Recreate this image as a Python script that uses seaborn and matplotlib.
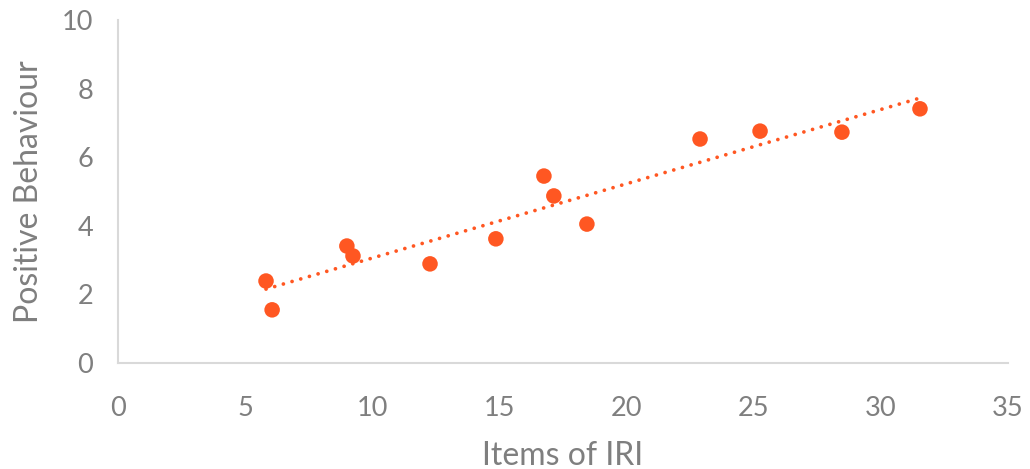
import matplotlib
matplotlib.use("Agg")
import matplotlib.pyplot as plt
import seaborn as sns
import pandas as pd

# Scores on the IRI items against observed positive behaviour
iri_items = [5.82, 6.06, 9.00, 9.24, 12.27, 14.86, 16.75, 17.14, 18.44, 22.89, 25.25, 28.47, 31.54]
positive_behaviour = [2.39, 1.55, 3.41, 3.12, 2.89, 3.62, 5.45, 4.87, 4.05, 6.53, 6.76, 6.73, 7.41]

x_ticks = [0, 5, 10, 15, 20, 25, 30, 35]
y_ticks = [0, 2, 4, 6, 8, 10]

df = pd.DataFrame({"Items of IRI": iri_items, "Positive Behaviour": positive_behaviour})

sns.set_style("white")
plt.rcParams["font.family"] = ["Lato", "DejaVu Sans"]

point_color = "#FF5722"
text_color = "#7F7F7F"
axis_color = "#D9D9D9"

fig = plt.figure(figsize=(10.30, 4.69), dpi=100)
ax = fig.add_axes([0.1146, 0.226, 0.8640, 0.7314])

sns.regplot(
    data=df, x="Items of IRI", y="Positive Behaviour", ax=ax, ci=None,
    scatter_kws=dict(s=125, color=point_color, edgecolor="none", alpha=1, zorder=3),
    line_kws=dict(color=point_color, linestyle=(0, (0.01, 2.4)), linewidth=2.7,
                  dash_capstyle="round", zorder=2),
)

ax.set_xlim(0, 35)
ax.set_ylim(0, 10)
ax.set_xticks(x_ticks)
ax.set_yticks(y_ticks)
ax.tick_params(axis="both", labelsize=19.5, colors=text_color, length=0)
ax.tick_params(axis="x", pad=24)
ax.tick_params(axis="y", pad=18)
ax.set_xlabel("Items of IRI", fontsize=23, color=text_color, labelpad=14)
ax.set_ylabel("Positive Behaviour", fontsize=23, color=text_color, labelpad=13)

for side in ("top", "right"):
    ax.spines[side].set_visible(False)
for side in ("left", "bottom"):
    ax.spines[side].set_color(axis_color)
    ax.spines[side].set_linewidth(1.5)

fig.savefig("out.png", dpi=100)
